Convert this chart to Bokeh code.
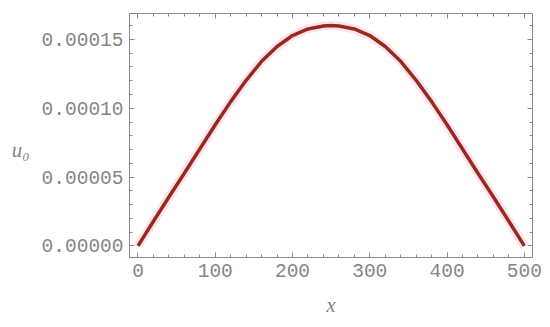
from bokeh.plotting import figure
from bokeh.models import FixedTicker, LinearAxis, PrintfTickFormatter, Range1d
from bokeh.embed import file_html
from bokeh.resources import INLINE

# data
x_vals = [0, 20, 40, 60, 80, 100, 120, 140, 160, 180, 200, 220, 240, 250,
          260, 280, 300, 320, 340, 360, 380, 400, 420, 440, 460, 480, 500]
u0_vals = [0.0, 1.79e-5, 3.55e-5, 5.28e-5, 7.04e-5, 8.80e-5, 1.048e-4, 1.203e-4,
           1.341e-4, 1.448e-4, 1.528e-4, 1.576e-4, 1.597e-4, 1.600e-4,
           1.597e-4, 1.576e-4, 1.528e-4, 1.448e-4, 1.341e-4, 1.203e-4, 1.048e-4,
           8.80e-5, 7.04e-5, 5.28e-5, 3.55e-5, 1.79e-5, 0.0]
x_major = [0, 100, 200, 300, 400, 500]
x_minor = list(range(-20, 520, 20))
y_major = [0.0, 0.00005, 0.0001, 0.00015]
y_minor = [i * 1e-5 for i in range(-1, 18)]

GRAY = "#858585"
FRAME = "#8a8a8a"
MONO = "Liberation Mono"
SERIF = "Liberation Serif"

p = figure(width=542, height=319, output_backend="svg", toolbar_location=None,
           x_range=Range1d(-11.0, 510.6), y_range=Range1d(-8.4e-6, 1.688e-4),
           min_border_left=129, min_border_right=10, min_border_top=13,
           min_border_bottom=58, background_fill_color="white",
           border_fill_color="white", outline_line_color=FRAME)
p.grid.visible = False

def style(ax, ticks, minor, labels=True):
    ax.ticker = FixedTicker(ticks=ticks, minor_ticks=minor)
    ax.axis_line_color = FRAME
    ax.major_tick_line_color = FRAME
    ax.minor_tick_line_color = FRAME
    ax.major_tick_in = 5
    ax.major_tick_out = 0
    ax.minor_tick_in = 3
    ax.minor_tick_out = 0
    if labels:
        ax.major_label_text_font = MONO
        ax.major_label_text_font_size = "19.5px"
        ax.major_label_text_color = GRAY
        ax.major_label_standoff = 6
    else:
        ax.major_label_text_font_size = "0px"
        ax.major_label_standoff = 0

style(p.xaxis[0], x_major, x_minor)
style(p.yaxis[0], y_major, y_minor)
p.yaxis[0].formatter = PrintfTickFormatter(format="%.5f")

xa = p.xaxis[0]
xa.axis_label = "x"
xa.axis_label_text_font = SERIF
xa.axis_label_text_font_style = "italic"
xa.axis_label_text_font_size = "21px"
xa.axis_label_text_color = GRAY
xa.axis_label_standoff = 13

ya = p.yaxis[0]
ya.axis_label = "\nu\u2080"
ya.axis_label_text_font = SERIF
ya.axis_label_text_font_style = "italic"
ya.axis_label_text_font_size = "21px"
ya.axis_label_text_color = GRAY
ya.axis_label_standoff = 9
if "axis_label_orientation" in ya.properties():
    ya.axis_label_orientation = "horizontal"

top = LinearAxis()
style(top, x_major, x_minor, labels=False)
p.add_layout(top, "above")
right = LinearAxis()
style(right, y_major, y_minor, labels=False)
p.add_layout(right, "right")

# faint halo and curve
p.line(x_vals, u0_vals, line_color="#ffd6f4", line_width=9, line_alpha=0.7)
p.line(x_vals, u0_vals, line_color="#a3291a", line_width=3.5)
p.line(x_vals, u0_vals, line_color="#6a3a12", line_width=1.2, line_alpha=0.6)

open("out.html", "w").write(file_html(p, INLINE))
